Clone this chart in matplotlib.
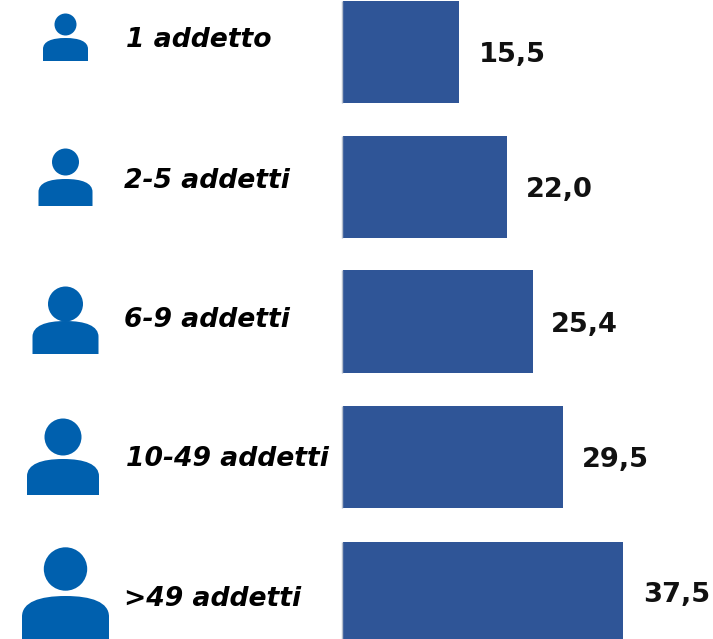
import matplotlib
matplotlib.use('Agg')
import matplotlib.pyplot as plt
from matplotlib.patches import Circle, PathPatch
from matplotlib.path import Path

labels = ['1 addetto', '2-5 addetti', '6-9 addetti', '10-49 addetti', '>49 addetti']
values = [15.5, 22.0, 25.4, 29.5, 37.5]
value_labels = ['15,5', '22,0', '25,4', '29,5', '37,5']

W, H = 713, 639
plt.rcParams['font.family'] = ['DejaVu Sans']
fig = plt.figure(figsize=(W / 100, H / 100), dpi=100)

# bars: axes placed in pixel coords, x scale from the value axis
ax = fig.add_axes([342.5 / W, 0, 1 - 342.5 / W, 1])
ax.set_xlim(0, (W - 342.5) / 7.49)
ax.set_ylim(639, 0)
ax.axis('off')
bar_top = [1, 136, 270, 406, 542]
bar_h = [102, 102, 103, 102, 97]
lab_x = [126, 124, 124, 126, 124]
lab_y = [40, 181, 320, 459, 599]
val_y = [55, 190, 325, 460, 595]
val_x = [479, 526, 551, 582, 643]
for i in range(len(values)):
    ax.barh(bar_top[i] + bar_h[i] / 2, values[i], height=bar_h[i], color='#2F5597', edgecolor='none')
    ax.vlines(-0.1, bar_top[i], bar_top[i] + bar_h[i], color='#B4BDCC', lw=1, clip_on=False)

# labels and icons in pixel coords
ov = fig.add_axes([0, 0, 1, 1])
ov.set_xlim(0, W)
ov.set_ylim(H, 0)
ov.axis('off')
ov.patch.set_alpha(0)
for i in range(len(labels)):
    ov.text(lab_x[i], lab_y[i], labels[i], fontsize=19.2, fontweight='bold', style='italic',
            ha='left', va='center', color='black')
    ov.text(val_x[i], val_y[i], value_labels[i], fontsize=19.6, fontweight='bold',
            ha='left', va='center', color='#111111')

icon_cx = [65.5, 65.5, 65.5, 63, 65.5]
head_y = [24.5, 162, 304, 437, 569]
head_r = [11, 13.5, 17.5, 18.5, 21.7]
body_top = [38, 179, 321, 459, 596]
body_bot = [61, 206, 354, 495, 639]
body_w = [45, 54, 66, 72, 87]
blue = '#0060AE'
for i in range(5):
    ov.add_patch(Circle((icon_cx[i], head_y[i]), head_r[i], color=blue, lw=0))
    hw = body_w[i] / 2
    cx = icon_cx[i]
    top = body_top[i]
    bot = body_bot[i]
    sh = top + (bot - top) * 0.48
    verts = [(cx - hw, bot), (cx - hw, sh), (cx - hw, top + (sh - top) * 0.3), (cx - hw * 0.6, top),
             (cx, top), (cx + hw * 0.6, top), (cx + hw, top + (sh - top) * 0.3), (cx + hw, sh),
             (cx + hw, bot), (cx - hw, bot)]
    codes = [Path.MOVETO, Path.LINETO, Path.CURVE4, Path.CURVE4, Path.CURVE4,
             Path.CURVE4, Path.CURVE4, Path.CURVE4, Path.LINETO, Path.CLOSEPOLY]
    ov.add_patch(PathPatch(Path(verts, codes), color=blue, lw=0))

fig.savefig('out.png', dpi=100)
